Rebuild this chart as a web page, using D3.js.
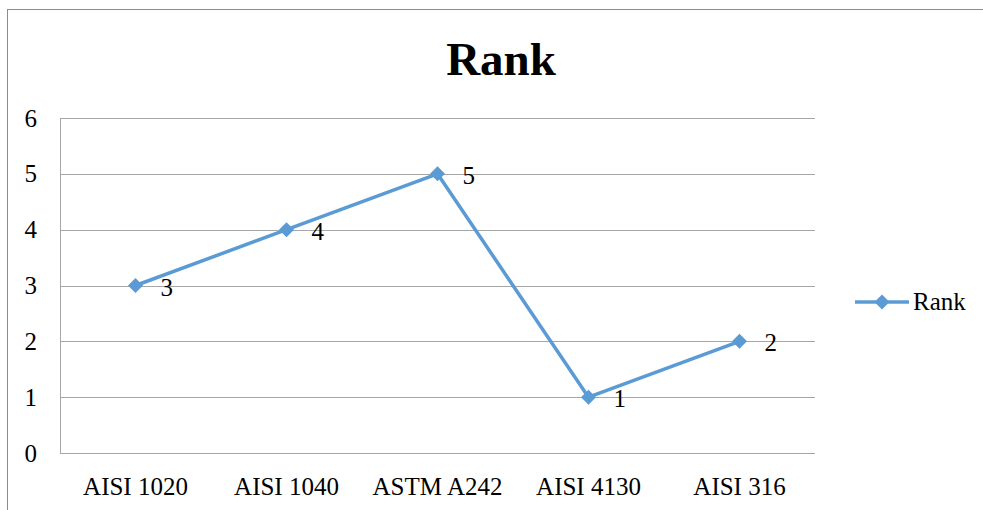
<!DOCTYPE html>
<html>
<head>
<meta charset="utf-8">
<script src="https://cdn.jsdelivr.net/npm/d3@7"></script>
<style>
  html, body { margin: 0; padding: 0; background: #fff; }
  svg { display: block; }
  text { font-family: "Liberation Serif", "Times New Roman", serif; fill: #000; }
</style>
</head>
<body>
<svg id="chart" width="983" height="510"></svg>
<script>
// Chart data
const categories = ["AISI 1020", "AISI 1040", "ASTM A242", "AISI 4130", "AISI 316"];
const rankValues = [3, 4, 5, 1, 2];
const yTicks = [0, 1, 2, 3, 4, 5, 6];
const seriesName = "Rank";
const chartTitle = "Rank";

const svg = d3.select("#chart");
const W = 983, H = 510;
const plot = { left: 60, right: 815, top: 118, bottom: 453 };
const lineColor = "#5B9BD5";
const labelFont = '"Liberation Serif", "Times New Roman", serif';
const labelSize = "25px";

// Outer chart border
svg.append("rect")
  .attr("x", 7.5).attr("y", 9.5)
  .attr("width", W + 10).attr("height", H + 10)
  .attr("fill", "none").attr("stroke", "#8c8c8c").attr("stroke-width", 1);

const x = d3.scaleBand().domain(categories).range([plot.left, plot.right]);
const y = d3.scaleLinear().domain([0, 6]).range([plot.bottom, plot.top]);

// Horizontal gridlines
svg.append("g")
  .selectAll("line")
  .data(yTicks)
  .join("line")
  .attr("x1", plot.left).attr("x2", plot.right)
  .attr("y1", d => Math.round(y(d)) + 0.5).attr("y2", d => Math.round(y(d)) + 0.5)
  .attr("stroke", "#a6a6a6").attr("stroke-width", 1);

// Vertical axis line
svg.append("line")
  .attr("x1", plot.left + 0.5).attr("x2", plot.left + 0.5)
  .attr("y1", plot.top).attr("y2", plot.bottom)
  .attr("stroke", "#a6a6a6").attr("stroke-width", 1);

// Y axis labels
const yAxis = d3.axisLeft(y).tickValues(yTicks).tickSize(0).tickPadding(23).tickFormat(d3.format("d"));
const gy = svg.append("g").attr("transform", `translate(${plot.left},0)`).call(yAxis);
gy.select(".domain").remove();
gy.selectAll("text")
  .style("font-family", labelFont)
  .style("font-size", labelSize).attr("fill", "#000");

// X axis labels
const xAxis = d3.axisBottom(x).tickSize(0).tickPadding(24);
const gx = svg.append("g").attr("transform", `translate(0,${plot.bottom})`).call(xAxis);
gx.select(".domain").remove();
gx.selectAll("text")
  .style("font-family", labelFont)
  .style("font-size", labelSize).attr("fill", "#000");

// Title
svg.append("text")
  .attr("x", 501).attr("y", 75)
  .attr("text-anchor", "middle")
  .style("font-size", "47px").style("font-weight", "bold")
  .text(chartTitle);

// Series line
const cx = (d, i) => x(categories[i]) + x.bandwidth() / 2;
const line = d3.line().x((d, i) => cx(d, i)).y(d => y(d));
svg.append("path")
  .datum(rankValues)
  .attr("d", line)
  .attr("fill", "none")
  .attr("stroke", lineColor)
  .attr("stroke-width", 3.5)
  .attr("stroke-linejoin", "round");

// Diamond markers
const diamond = s => `M0,${-s}L${s},0L0,${s}L${-s},0Z`;
svg.append("g")
  .selectAll("path")
  .data(rankValues)
  .join("path")
  .attr("transform", (d, i) => `translate(${cx(d, i)},${y(d)})`)
  .attr("d", diamond(7.5))
  .attr("fill", lineColor);

// Data labels
svg.append("g")
  .selectAll("text")
  .data(rankValues)
  .join("text")
  .attr("x", (d, i) => cx(d, i) + 25)
  .attr("y", d => y(d) + 10)
  .style("font-size", labelSize)
  .text(d => d);

// Legend
const lg = svg.append("g").attr("transform", "translate(855,302)");
lg.append("line").attr("x1", 0).attr("x2", 54).attr("y1", 0).attr("y2", 0)
  .attr("stroke", lineColor).attr("stroke-width", 3.5);
lg.append("path").attr("transform", "translate(27,0)").attr("d", diamond(7.5)).attr("fill", lineColor);
lg.append("text").attr("x", 58).attr("y", 8).style("font-size", labelSize).text(seriesName);
</script>
</body>
</html>
